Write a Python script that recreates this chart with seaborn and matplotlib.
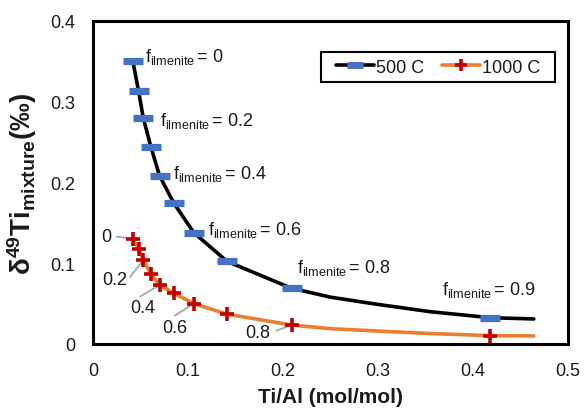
import matplotlib
matplotlib.use("Agg")
import matplotlib.pyplot as plt
import seaborn as sns
import pandas as pd
from matplotlib.lines import Line2D
from matplotlib.patches import Rectangle
from matplotlib.ticker import MultipleLocator

# ---------------- data ----------------
f_labels = ["0", "0.1", "0.2", "0.3", "0.4", "0.5", "0.6", "0.7", "0.8", "0.9"]
ti_al = [0.042, 0.048, 0.053, 0.061, 0.070, 0.085, 0.106, 0.141, 0.209, 0.418]
d49_500 = [0.350, 0.313, 0.2795, 0.244, 0.2085, 0.1746, 0.138, 0.1024, 0.069, 0.0326]
d49_1000 = [0.130, 0.1176, 0.104, 0.0867, 0.073, 0.063, 0.050, 0.037, 0.0235, 0.0103]

# model curves
curve_x = [0.042, 0.048, 0.053, 0.061, 0.070, 0.085, 0.106, 0.141, 0.209, 0.25, 0.30, 0.355, 0.418, 0.464]
curve_500 = [0.350, 0.313, 0.2795, 0.244, 0.2085, 0.1746, 0.138, 0.1024, 0.069, 0.058, 0.049, 0.040, 0.0326, 0.031]
curve_1000 = [0.130, 0.1176, 0.104, 0.0867, 0.073, 0.063, 0.050, 0.037, 0.0235, 0.019, 0.016, 0.013, 0.0103, 0.0100]

series_names = ["500 C", "1000 C"]
x_ticks = [0, 0.1, 0.2, 0.3, 0.4, 0.5]
y_ticks = [0, 0.1, 0.2, 0.3, 0.4]

pts = pd.DataFrame({"ti_al": ti_al, "d500": d49_500, "d1000": d49_1000, "f": f_labels})
crv = pd.DataFrame({"x": curve_x, "c500": curve_500, "c1000": curve_1000})

# ---------------- style ----------------
sns.set_theme(style="white")
plt.rcParams["font.family"] = ["Liberation Sans", "DejaVu Sans"]
plt.rcParams["mathtext.fontset"] = "custom"
plt.rcParams["mathtext.rm"] = "Liberation Sans"
plt.rcParams["mathtext.it"] = "Liberation Sans"
plt.rcParams["mathtext.bf"] = "Liberation Sans:bold"
plt.rcParams["mathtext.default"] = "regular"

BLACK = "#000000"
ORANGE = "#ED7D31"
BLUE = "#4472C4"
RED = "#C00000"
GRAY = "#A6A6A6"
TXT = "#1a1a1a"

fig = plt.figure(figsize=(5.84, 4.10), dpi=100)
ax = fig.add_axes([93 / 584, 1 - 345 / 410, 475 / 584, 323 / 410])

sns.lineplot(data=crv, x="x", y="c500", ax=ax, color=BLACK, lw=2.6, sort=False, legend=False)
sns.lineplot(data=crv, x="x", y="c1000", ax=ax, color=ORANGE, lw=2.6, sort=False, legend=False)

ax.plot(pts["ti_al"], pts["d500"], ls="none", marker="_", ms=14.5, mew=5.2, color=BLUE, zorder=5)
ax.plot(pts["ti_al"], pts["d1000"], ls="none", marker="+", ms=9.5, mew=2.6, color=RED, zorder=5)

ax.set_xlim(0, 0.5)
ax.set_ylim(0, 0.4)
ax.set_xticks(x_ticks)
ax.set_yticks(y_ticks)
ax.set_xticklabels(["0", "0.1", "0.2", "0.3", "0.4", "0.5"])
ax.set_yticklabels(["0", "0.1", "0.2", "0.3", "0.4"])
ax.xaxis.set_minor_locator(MultipleLocator(0.05))
ax.yaxis.set_minor_locator(MultipleLocator(0.05))
ax.tick_params(axis="both", which="both", direction="in", color=BLACK, width=1.2,
               labelsize=13, labelcolor=TXT)
ax.tick_params(axis="x", which="major", pad=13)
ax.tick_params(axis="y", which="major", pad=13)
ax.tick_params(axis="both", which="major", length=5)
ax.tick_params(axis="both", which="minor", length=3)
ax.tick_params(top=False, right=False, which="both")
for s in ax.spines.values():
    s.set_visible(True)
    s.set_color(BLACK)
    s.set_linewidth(2.2)

ax.set_xlabel("Ti/Al (mol/mol)", fontsize=15, fontweight="bold", color=TXT, labelpad=6)
ax.set_ylabel(r"$\mathbf{\delta^{49}Ti_{mixture}}$$\mathbf{(‰)}$", fontsize=20,
              fontweight="bold", color=TXT, labelpad=8)

# f_ilmenite labels for 500 C curve
lab500 = {0: (0.0547, 0.3505), 2: (0.0705, 0.271), 4: (0.0842, 0.2056),
          6: (0.121, 0.136), 8: (0.2147, 0.089), 9: (0.367, 0.062)}
for i, (tx, ty) in lab500.items():
    ax.text(tx, ty, r"f$_{\mathregular{ilmenite}}$$\,$= " + f_labels[i], fontsize=13,
            color=TXT, ha="left", va="baseline")

# labels + leader lines for 1000 C curve
lab1000 = {0: (0.0084, 0.1276, (0.025, 0.133)),
           2: (0.0095, 0.0743, (0.039, 0.083)),
           4: (0.039, 0.0396, (0.05, 0.059)),
           6: (0.0726, 0.0149, (0.086, 0.035)),
           8: (0.16, 0.0087, (0.193, 0.0165))}
for i, (tx, ty, (lx, ly)) in lab1000.items():
    ax.text(tx, ty, f_labels[i], fontsize=13, color=TXT, ha="left", va="baseline")
    ax.annotate("", xy=(pts["ti_al"][i], pts["d1000"][i]), xytext=(lx, ly),
                arrowprops=dict(arrowstyle="-", color=GRAY, lw=1.3, shrinkA=0, shrinkB=2))

# legend: frame drawn as a box, entries centred inside it
bx0, by0, bw, bh = 0.48, 0.811, 0.4926, 0.0929
ax.add_patch(Rectangle((bx0, by0), bw, bh, transform=ax.transAxes, fill=True,
                       facecolor="white", edgecolor=BLACK, lw=1.5, zorder=6))
handles = [
    Line2D([0], [0], color=BLACK, lw=2.6, marker="_", ms=11, mew=5, mec=BLUE, mfc=BLUE),
    Line2D([0], [0], color=ORANGE, lw=2.6, marker="+", ms=8, mew=2.6, mec=RED, mfc=RED),
]
leg = ax.legend(handles, series_names, loc="center", bbox_to_anchor=(bx0 + bw / 2, by0 + bh / 2),
                ncol=2, fontsize=13, frameon=False, handlelength=2.1,
                handletextpad=0.1, columnspacing=1.0, borderpad=0.0, borderaxespad=0)
leg.set_zorder(7)
for t in leg.get_texts():
    t.set_color(TXT)

fig.savefig("out.png", dpi=100)
